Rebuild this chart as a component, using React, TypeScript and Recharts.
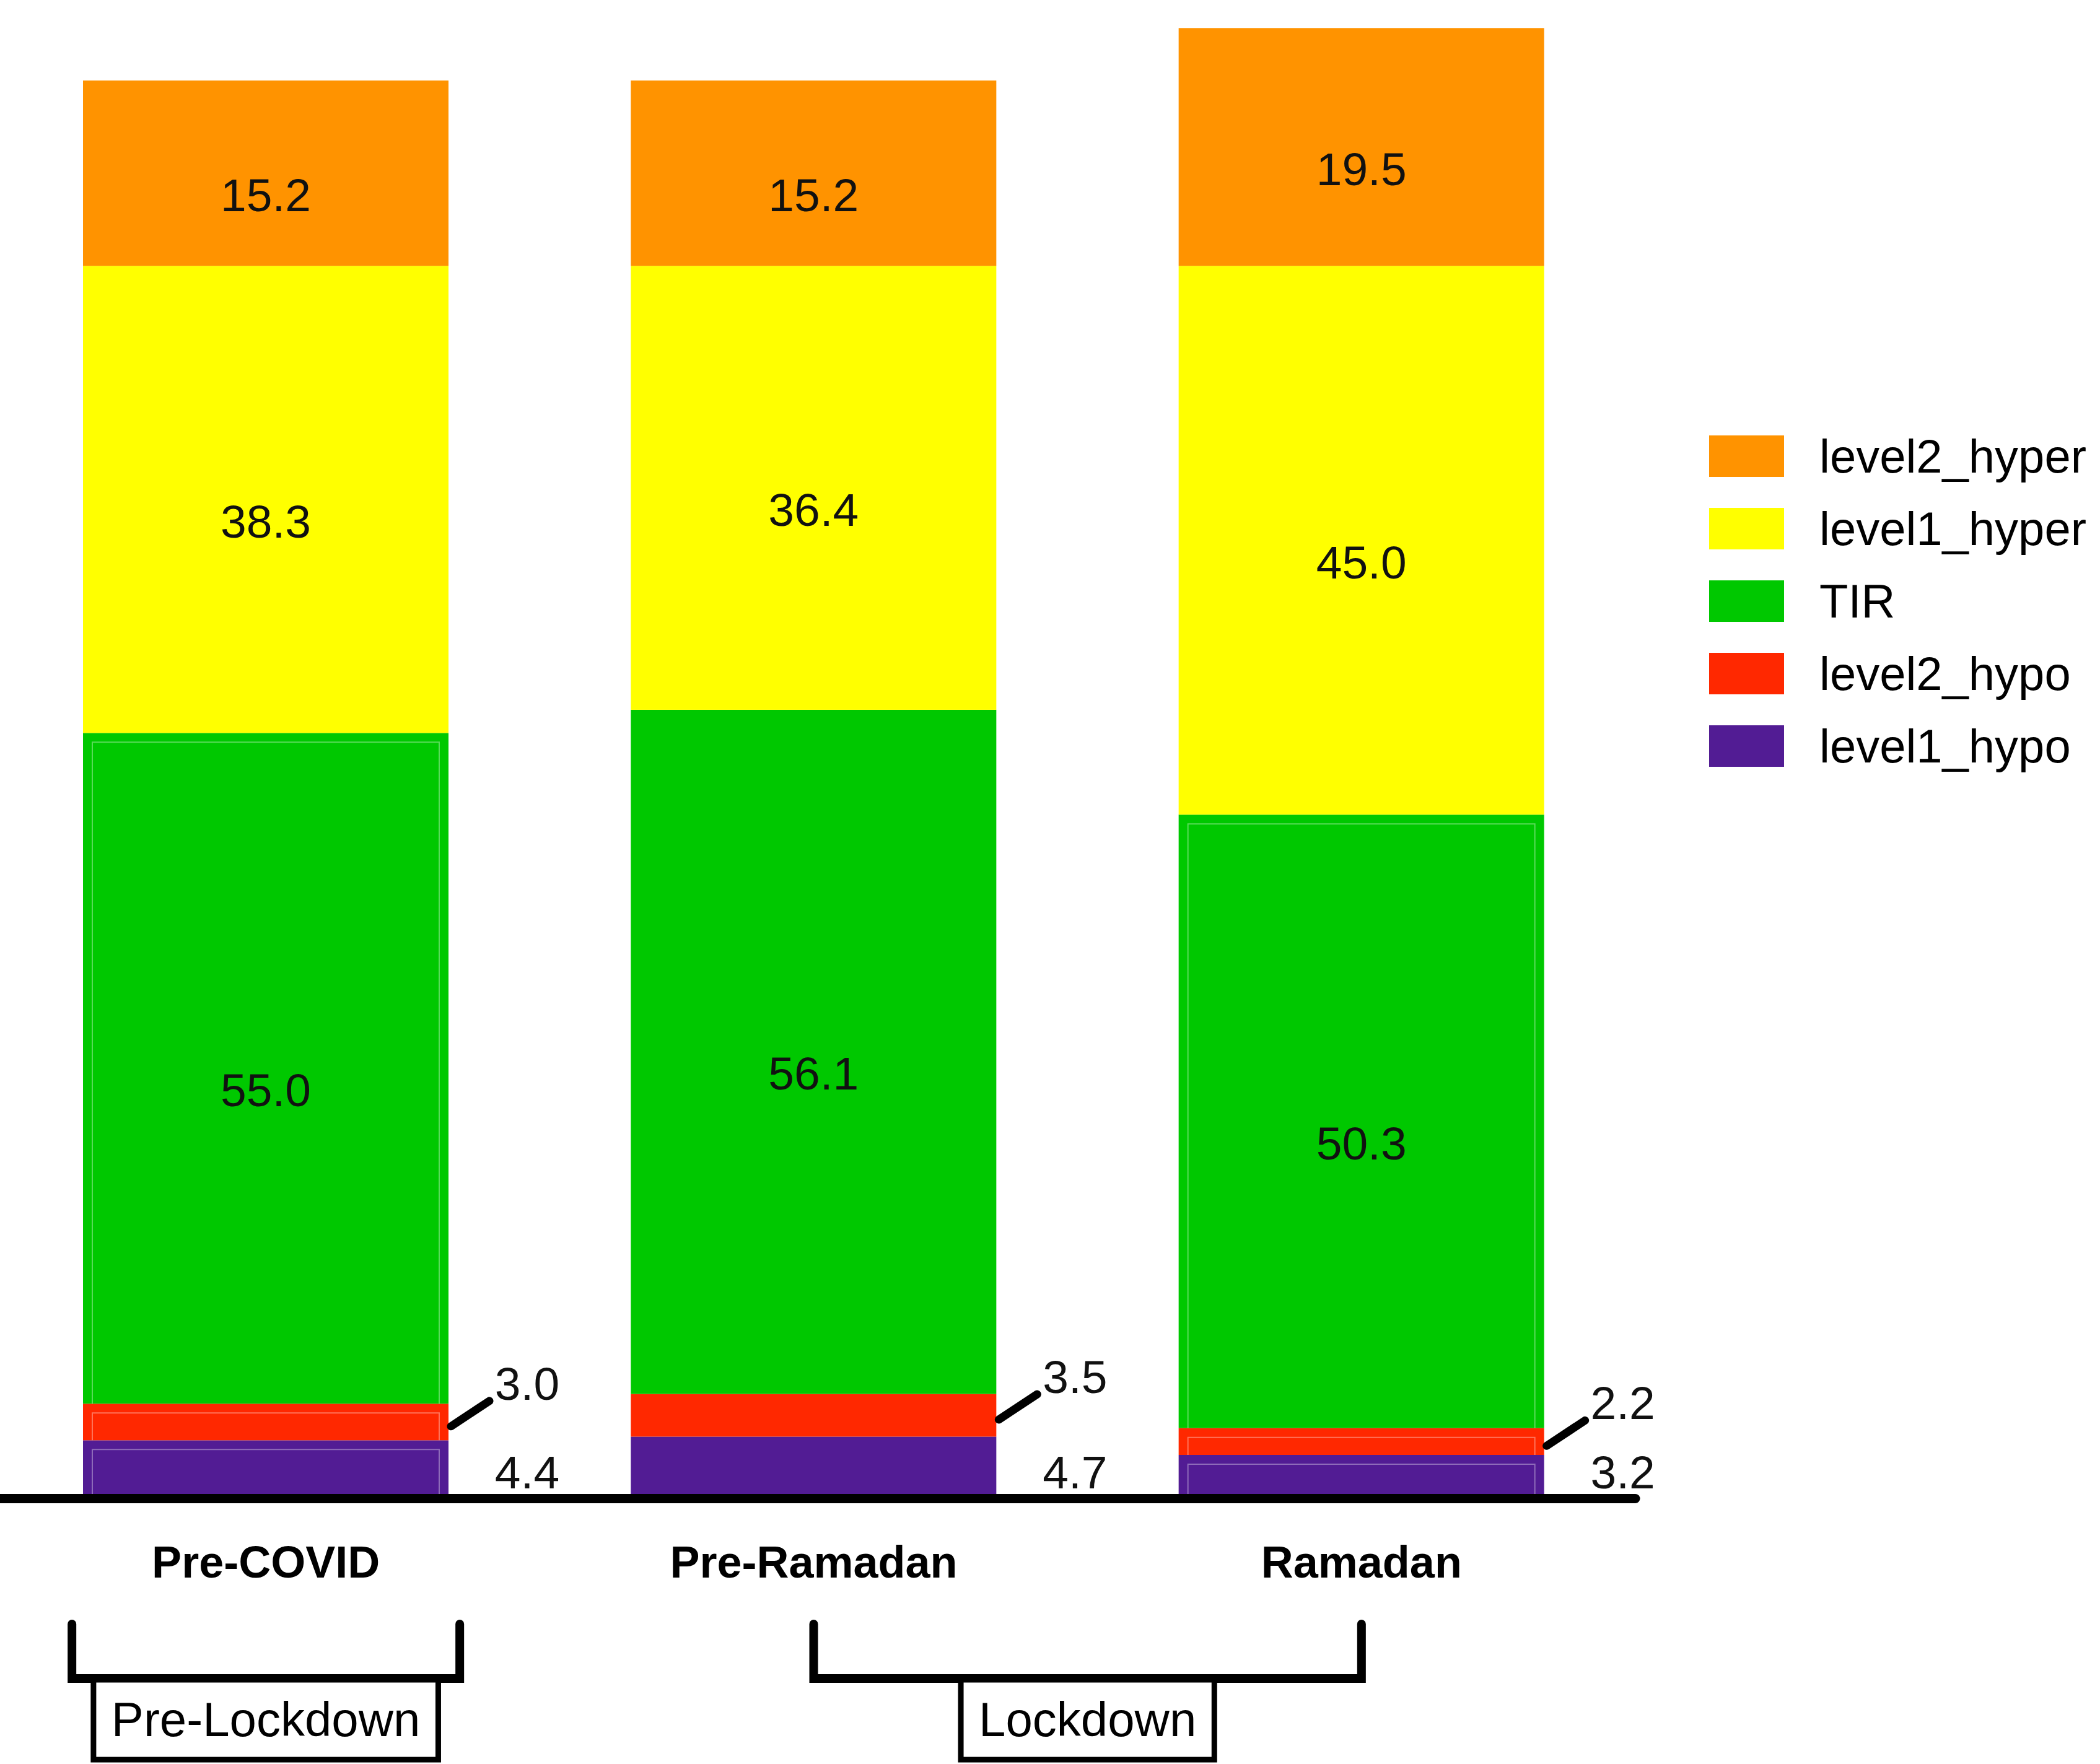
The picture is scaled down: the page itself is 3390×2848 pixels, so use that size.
import { BarChart, Bar, XAxis, YAxis, Legend, LabelList } from 'recharts';

const periods = ['Pre-COVID', 'Pre-Ramadan', 'Ramadan'];
const level1Hypo = [4.4, 4.7, 3.2];
const level2Hypo = [3.0, 3.5, 2.2];
const tir = [55.0, 56.1, 50.3];
const level1Hyper = [38.3, 36.4, 45.0];
const level2Hyper = [15.2, 15.2, 19.5];

const groupLabels = ['Pre-Lockdown', 'Lockdown'];
const groupFirst = [0, 1];
const groupLast = [0, 2];

// stacking order, bottom to top
const seriesKeys = ['level1_hypo', 'level2_hypo', 'TIR', 'level1_hyper', 'level2_hyper'];
const seriesColors: Record<string, string> = {
  level1_hypo: '#521C94',
  level2_hypo: '#FF2800',
  TIR: '#00C800',
  level1_hyper: '#FFFF00',
  level2_hyper: '#FF9300',
};

const data = periods.map((period, i) => ({
  period,
  level1_hypo: level1Hypo[i],
  level2_hypo: level2Hypo[i],
  TIR: tir[i],
  level1_hyper: level1Hyper[i],
  level2_hyper: level2Hyper[i],
}));

// layout (px); the chart is shifted 13px left so the first band starts off-page
const W = 3403;
const H = 2848;
const PLOT_W = 2653;
const PLOT_H = 2412;
const FONT = '"Liberation Sans", Arial, sans-serif';

// faint inset outline seen on the first and last bar
const outlined = [true, false, true];

const fmt = (v: any) => Number(v).toFixed(1);

const measure = (text: string, size: number) => {
  try {
    const ctx = document.createElement('canvas').getContext('2d');
    if (ctx) {
      ctx.font = `${size}px "Liberation Sans"`;
      return ctx.measureText(text).width;
    }
  } catch (e) {
    // ignore
  }
  return text.length * size * 0.55;
};

const makeShape = (withOutline: boolean) => (p: any) => {
  const { x, y, width, height, fill } = p;
  const i = periods.indexOf(p.payload?.period);
  return (
    <g>
      <rect x={x} y={y} width={width} height={height} fill={fill} />
      {withOutline && outlined[i] && height > 30 && (
        <path
          d={`M${x + 15},${y + height} V${y + 15} H${x + width - 15} V${y + height}`}
          fill="none"
          stroke="rgba(255,255,255,0.35)"
          strokeWidth={2}
        />
      )}
    </g>
  );
};

const insideLabel = (p: any) => {
  const x = Number(p.x), y = Number(p.y), w = Number(p.width), h = Number(p.height);
  return (
    <text x={x + w / 2} y={y + h / 2 + 35} dy="0.35em" textAnchor="middle" fontSize={75} fontFamily={FONT} fill="#111">
      {fmt(p.value)}
    </text>
  );
};

const hypo2Label = (p: any) => {
  const x = Number(p.x), y = Number(p.y), w = Number(p.width), h = Number(p.height);
  const right = x + w;
  const mid = y + h / 2;
  return (
    <g>
      <line x1={right + 4} y1={mid + 7} x2={right + 66} y2={mid - 34} stroke="#000" strokeWidth={13} strokeLinecap="round" />
      <text x={right + 127} y={mid - 36} textAnchor="middle" fontSize={75} fontFamily={FONT} fill="#111">
        {fmt(p.value)}
      </text>
    </g>
  );
};

const hypo1Label = (p: any) => {
  const x = Number(p.x), y = Number(p.y), w = Number(p.width), h = Number(p.height);
  return (
    <text x={x + w + 127} y={y + h - 9} textAnchor="middle" fontSize={75} fontFamily={FONT} fill="#111">
      {fmt(p.value)}
    </text>
  );
};

const CategoryTick = (props: any) => {
  const { x, y, payload } = props;
  const i = payload?.index ?? props.index ?? 0;
  const band = PLOT_W / periods.length;
  const groups = groupLabels
    .map((label, g) => ({ label, first: groupFirst[g], last: groupLast[g] }))
    .filter((g) => g.first === i);
  return (
    <g>
      <text x={x} y={y + 135} textAnchor="middle" fontSize={72} fontWeight="bold" fontFamily={FONT} fill="#000">
        {payload.value}
      </text>
      {groups.map((g) => {
        const left = g.first === g.last ? x - 313 : x;
        const right = g.first === g.last ? x + 313 : x + band * (g.last - g.first);
        const cx = (left + right) / 2;
        const bw = measure(g.label, 78) + 58;
        return (
          <g key={g.label}>
            <path
              d={`M${left},${y + 210} V${y + 298} H${right} V${y + 210}`}
              fill="none"
              stroke="#000"
              strokeWidth={14}
              strokeLinecap="round"
            />
            <rect x={cx - bw / 2} y={y + 300} width={bw} height={129} fill="#fff" stroke="#000" strokeWidth={9} />
            <text x={cx} y={y + 391} textAnchor="middle" fontSize={78} fontFamily={FONT} fill="#000">
              {g.label}
            </text>
          </g>
        );
      })}
    </g>
  );
};

const renderLegend = () => {
  const items = seriesKeys.slice().reverse();
  return (
    <div style={{ fontFamily: FONT }}>
      {items.map((key) => (
        <div key={key} style={{ display: 'flex', alignItems: 'center', height: 67, marginBottom: 50, whiteSpace: 'nowrap' }}>
          <div style={{ width: 121, height: 67, background: seriesColors[key] }} />
          <span style={{ marginLeft: 57, fontSize: 76, color: '#000', lineHeight: '67px' }}>{key}</span>
        </div>
      ))}
    </div>
  );
};

const labelRenderers: Record<string, any> = {
  level1_hypo: hypo1Label,
  level2_hypo: hypo2Label,
  TIR: insideLabel,
  level1_hyper: insideLabel,
  level2_hyper: insideLabel,
};

export default function App() {
  return (
    <div style={{ position: 'absolute', left: -13, top: 0, width: W, height: H, overflow: 'hidden', background: '#fff' }}>
      <BarChart
        width={W}
        height={H}
        data={data}
        margin={{ top: 0, right: W - PLOT_W, bottom: 0, left: 0 }}
      >
        <YAxis hide domain={[0, 122.5]} allowDataOverflow />
        <XAxis
          dataKey="period"
          height={H - PLOT_H}
          interval={0}
          tickLine={false}
          tickSize={0}
          tickMargin={0}
          axisLine={{ stroke: '#000', strokeWidth: 15, strokeLinecap: 'round', transform: 'translate(0,7.5)' }}
          tick={<CategoryTick />}
        />
        <Legend
          layout="vertical"
          align="center"
          verticalAlign="middle"
          content={renderLegend}
          wrapperStyle={{ left: 2772, top: 703, width: 640, height: 'auto' }}
        />
        {seriesKeys.map((key) => (
          <Bar
            key={key}
            dataKey={key}
            name={key}
            stackId="a"
            fill={seriesColors[key]}
            barSize={590}
            isAnimationActive={false}
            shape={makeShape(key !== 'level1_hyper' && key !== 'level2_hyper')}
          >
            <LabelList dataKey={key} content={labelRenderers[key]} />
          </Bar>
        ))}
      </BarChart>
    </div>
  );
}
